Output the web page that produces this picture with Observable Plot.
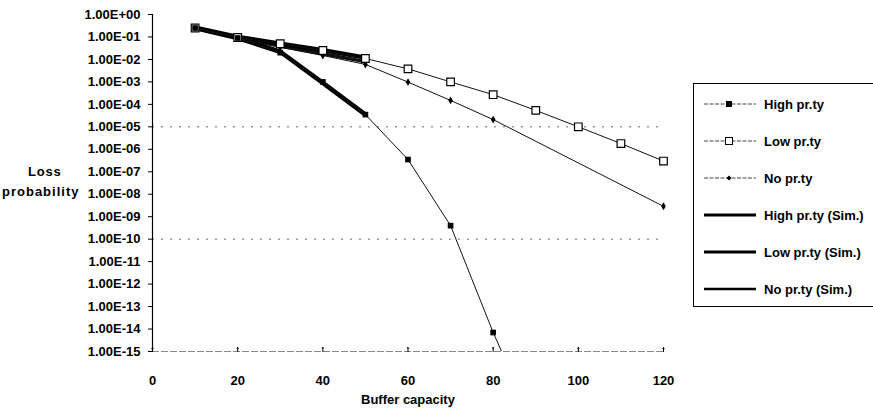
<!DOCTYPE html>
<html>
<head>
<meta charset="utf-8">
<script src="https://cdn.jsdelivr.net/npm/d3@7"></script>
<script src="https://cdn.jsdelivr.net/npm/@observablehq/plot@0.6"></script>
<style>
  html, body { margin: 0; padding: 0; background: #fff; }
  #wrap { position: relative; width: 873px; height: 408px; overflow: hidden; font-family: "Liberation Sans", Arial, sans-serif; font-weight: bold; }
  .lbl { position: absolute; font-size: 13px; font-weight: bold; color: #000; white-space: nowrap; line-height: 1; }
  #legend { position: absolute; left: 693px; top: 83px; width: 190px; height: 224px; border: 1px solid #000; box-sizing: border-box; }
  .row { position: absolute; left: 0; height: 20px; }
  .row svg { position: absolute; left: 8px; top: 0; }
  .row span { position: absolute; left: 70px; top: 3px; font-size: 13px; white-space: nowrap; }
</style>
</head>
<body>
<div id="wrap"></div>
<script>
// ---- data ----
const xAll = [10, 20, 30, 40, 50, 60, 70, 80, 90, 100, 110, 120];
const highX = [10, 20, 30, 40, 50, 60, 70, 80, 90];
const highPrty = [2.5e-1, 9e-2, 2e-2, 1e-3, 3.5e-5, 3.5e-7, 4e-10, 7e-15, 4e-19];
const lowPrty = [2.5e-1, 9.5e-2, 5e-2, 2.5e-2, 1.1e-2, 3.8e-3, 1.0e-3, 2.7e-4, 5.4e-5, 1.0e-5, 1.8e-6, 3e-7];
const noX = [10, 20, 30, 40, 50, 60, 70, 80, 120];
const noPrty = [2.5e-1, 9e-2, 3.5e-2, 1.5e-2, 6e-3, 9.8e-4, 1.5e-4, 2.1e-5, 2.9e-9];
const simX = [10, 20, 30, 40, 50];
const highSim = [2.5e-1, 9e-2, 2.2e-2, 9e-4, 3.5e-5];
const lowSim = [2.6e-1, 1e-1, 5e-2, 2.6e-2, 1.2e-2];
const noSim = [2.5e-1, 9e-2, 4e-2, 1.8e-2, 8e-3];
const xTicks = [0, 20, 40, 60, 80, 100, 120];
const yTicks = d3.range(0, 16).map(k => Math.pow(10, -k));
const refLines = [1e-5, 1e-10];
const legendLabels = ["High pr.ty", "Low pr.ty", "No pr.ty", "High pr.ty (Sim.)", "Low pr.ty (Sim.)", "No pr.ty (Sim.)"];

const toPts = (xs, ys) => xs.map((x, i) => ({x, y: ys[i]}));
const high = toPts(highX, highPrty);
const low = toPts(xAll, lowPrty);
const no = toPts(noX, noPrty);
const hs = toPts(simX, highSim);
const ls = toPts(simX, lowSim);
const ns = toPts(simX, noSim);

const fmt = d => {
  const k = Math.round(Math.log10(d));
  return "1.00E" + (k >= 0 ? "+" : "-") + String(Math.abs(k)).padStart(2, "0");
};

const plot = Plot.plot({
  width: 873,
  height: 408,
  marginLeft: 152,
  marginRight: 210,
  marginTop: 14,
  marginBottom: 57,
  style: {fontFamily: "'Liberation Sans', Arial, sans-serif", fontSize: "13px", fontWeight: "bold", color: "#000", background: "#fff", overflow: "visible"},
  x: {domain: [0, 120]},
  y: {type: "log", domain: [1e-15, 1]},
  marks: [
    Plot.ruleY(refLines, {y: d => d, x1: 0, x2: 120.5, stroke: "#666", strokeWidth: 1, strokeDasharray: "2,7"}),
    Plot.ruleY([1e-15], {x1: 0, x2: 120.5, stroke: "#888", strokeWidth: 1, strokeDasharray: "7,2"}),
    Plot.ruleX([0], {y1: 1e-15, y2: 1, stroke: "#000", strokeWidth: 1.2}),
    Plot.axisY({ticks: yTicks, tickFormat: fmt, tickSize: 4, tickPadding: 8, label: null, fontSize: 13, fontWeight: "bold"}),
    Plot.axisX({ticks: xTicks, tickSize: 0, tickPadding: 24, label: null, fontSize: 13, fontWeight: "bold"}),
    Plot.vector(xTicks, {x: d => d, y: 1e-15, length: 4, rotate: 0, anchor: "start", stroke: "#000", strokeWidth: 1}),
    // simulation lines (thick)
    Plot.line(ns, {x: "x", y: "y", stroke: "#111", strokeWidth: 3.5}),
    Plot.line(ls, {x: "x", y: "y", stroke: "#000", strokeWidth: 4.5}),
    Plot.line(hs, {x: "x", y: "y", stroke: "#000", strokeWidth: 4.5}),
    // analytic lines (thin)
    Plot.line(no, {x: "x", y: "y", stroke: "#111", strokeWidth: 1}),
    Plot.line(low, {x: "x", y: "y", stroke: "#111", strokeWidth: 1}),
    Plot.line(high, {x: "x", y: "y", stroke: "#111", strokeWidth: 1, clip: true}),
    // markers
    Plot.dot(no, {x: "x", y: "y", symbol: "diamond", r: 2.4, fill: "#000", stroke: "none"}),
    Plot.dot(low, {x: "x", y: "y", symbol: "square", r: 4.3, fill: "#fff", stroke: "#000", strokeWidth: 1.2}),
    Plot.dot(high, {x: "x", y: "y", symbol: "square", r: 3.2, fill: "#000", stroke: "none", clip: true})
  ]
});

const wrap = document.getElementById("wrap");
wrap.appendChild(plot);

// axis titles
const t1 = document.createElement("div");
t1.className = "lbl"; t1.textContent = "Loss"; t1.style.left = "28px"; t1.style.top = "165px"; t1.style.letterSpacing = "0.8px";
wrap.appendChild(t1);
const t2 = document.createElement("div");
t2.className = "lbl"; t2.textContent = "probability"; t2.style.left = "2px"; t2.style.top = "185px"; t2.style.letterSpacing = "1px";
wrap.appendChild(t2);
const t3 = document.createElement("div");
t3.className = "lbl"; t3.textContent = "Buffer capacity"; t3.style.left = "361px"; t3.style.top = "393px";
wrap.appendChild(t3);

// legend
const legend = document.createElement("div");
legend.id = "legend";
wrap.appendChild(legend);
const ns_ = "http://www.w3.org/2000/svg";
legendLabels.forEach((name, i) => {
  const row = document.createElement("div");
  row.className = "row";
  row.style.top = (10 + i * 37) + "px";
  row.style.width = "190px";
  const svg = document.createElementNS(ns_, "svg");
  svg.setAttribute("width", "56"); svg.setAttribute("height", "20");
  const line = document.createElementNS(ns_, "line");
  line.setAttribute("x1", "2"); line.setAttribute("x2", "54");
  line.setAttribute("y1", "10"); line.setAttribute("y2", "10");
  line.setAttribute("stroke", i < 3 ? "#444" : "#000");
  line.setAttribute("stroke-width", i < 3 ? "1" : (i === 5 ? "2.5" : "3"));
  if (i < 3) line.setAttribute("stroke-dasharray", "4,1.5");
  svg.appendChild(line);
  if (i === 0) {
    const r = document.createElementNS(ns_, "rect");
    r.setAttribute("x", "24"); r.setAttribute("y", "7"); r.setAttribute("width", "6"); r.setAttribute("height", "6"); r.setAttribute("fill", "#000");
    svg.appendChild(r);
  } else if (i === 1) {
    const r = document.createElementNS(ns_, "rect");
    r.setAttribute("x", "23.5"); r.setAttribute("y", "6.5"); r.setAttribute("width", "7"); r.setAttribute("height", "7"); r.setAttribute("fill", "#fff"); r.setAttribute("stroke", "#000");
    svg.appendChild(r);
  } else if (i === 2) {
    const p = document.createElementNS(ns_, "path");
    p.setAttribute("d", "M27,7.5L29.5,10L27,12.5L24.5,10Z"); p.setAttribute("fill", "#000");
    svg.appendChild(p);
  }
  row.appendChild(svg);
  const sp = document.createElement("span");
  sp.textContent = name;
  row.appendChild(sp);
  legend.appendChild(row);
});
</script>
</body>
</html>
